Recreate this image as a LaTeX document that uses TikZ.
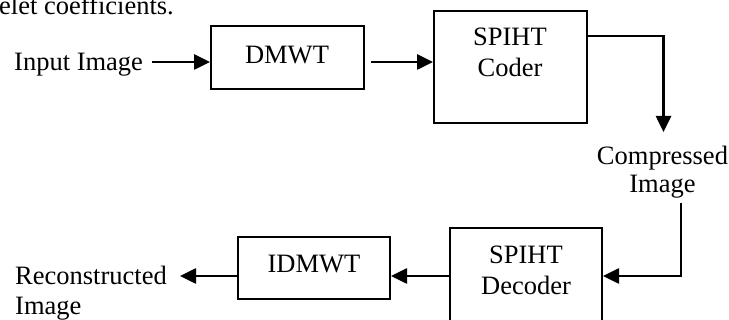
\documentclass[tikz,border=0pt]{standalone}
\usepackage{fontspec}
\setmainfont{Liberation Serif}
\usetikzlibrary{arrows.meta}
\begin{document}
\begin{tikzpicture}[x=1pt,y=-1pt,
  blk/.style={draw, line width=2pt, inner sep=0pt},
  lbl/.style={font=\fontsize{26.5pt}{28pt}\selectfont, inner sep=0pt},
  blbl/.style={font=\fontsize{26.5pt}{31pt}\selectfont, inner sep=0pt, align=center},
  flow/.style={line width=2.6pt, -{Triangle[length=16pt,width=15pt]}}]
\useasboundingbox (0,0) rectangle (729,320);
\clip (0,0) rectangle (729,320);
% partial text line from the page above
\node[lbl, anchor=base west] (prev) at (-1,15) {elet coefficients.};
% blocks
\node[blk, minimum width=153pt, minimum height=63pt] (dmwt) at (287.5,57.5) {};
\node[blk, minimum width=153pt, minimum height=112pt] (coder) at (510.5,67) {};
\node[blk, minimum width=152pt, minimum height=112pt] (decoder) at (526,284) {};
\node[blk, minimum width=152pt, minimum height=62pt] (idmwt) at (314,268) {};
% block texts (base anchor = last line)
\node[lbl, anchor=base] (tdmwt) at (287,64) {DMWT};
\node[blbl, anchor=base] (tcoder) at (510,77) {SPIHT\\Coder};
\node[blbl, anchor=base] (tdecoder) at (526,295) {SPIHT\\Decoder};
\node[lbl, anchor=base] (tidmwt) at (314,273) {IDMWT};
% outside labels
\node[lbl, anchor=base west] (input) at (14,71) {Input Image};
\node[lbl, anchor=base, align=center] (comp) at (662.5,193) {Compressed\\Image};
\node[lbl, anchor=base west, align=left, font=\fontsize{26.5pt}{30pt}\selectfont] (recon) at (15,315) {Reconstructed\\Image};
% connector end points
\coordinate (a1) at (152,62);
\coordinate (a2) at (371,62);
\coordinate (c1) at (663.5,36);
\coordinate (c2) at (663.5,132);
\coordinate (d1) at (681,203);
\coordinate (d2) at (681,276);
\coordinate (r1) at (180,276);
% connectors
\draw[flow] (a1) -- (a1 -| dmwt.west);
\draw[flow] (a2) -- (a2 -| coder.west);
\draw[flow] (c1 -| coder.east) -- (c1) -- (c2);
\draw[flow] (d1) -- (d2) -- (d2 -| decoder.east);
\draw[flow] (d2 -| decoder.west) -- (d2 -| idmwt.east);
\draw[flow] (r1 -| idmwt.west) -- (r1);
\end{tikzpicture}
\end{document}
